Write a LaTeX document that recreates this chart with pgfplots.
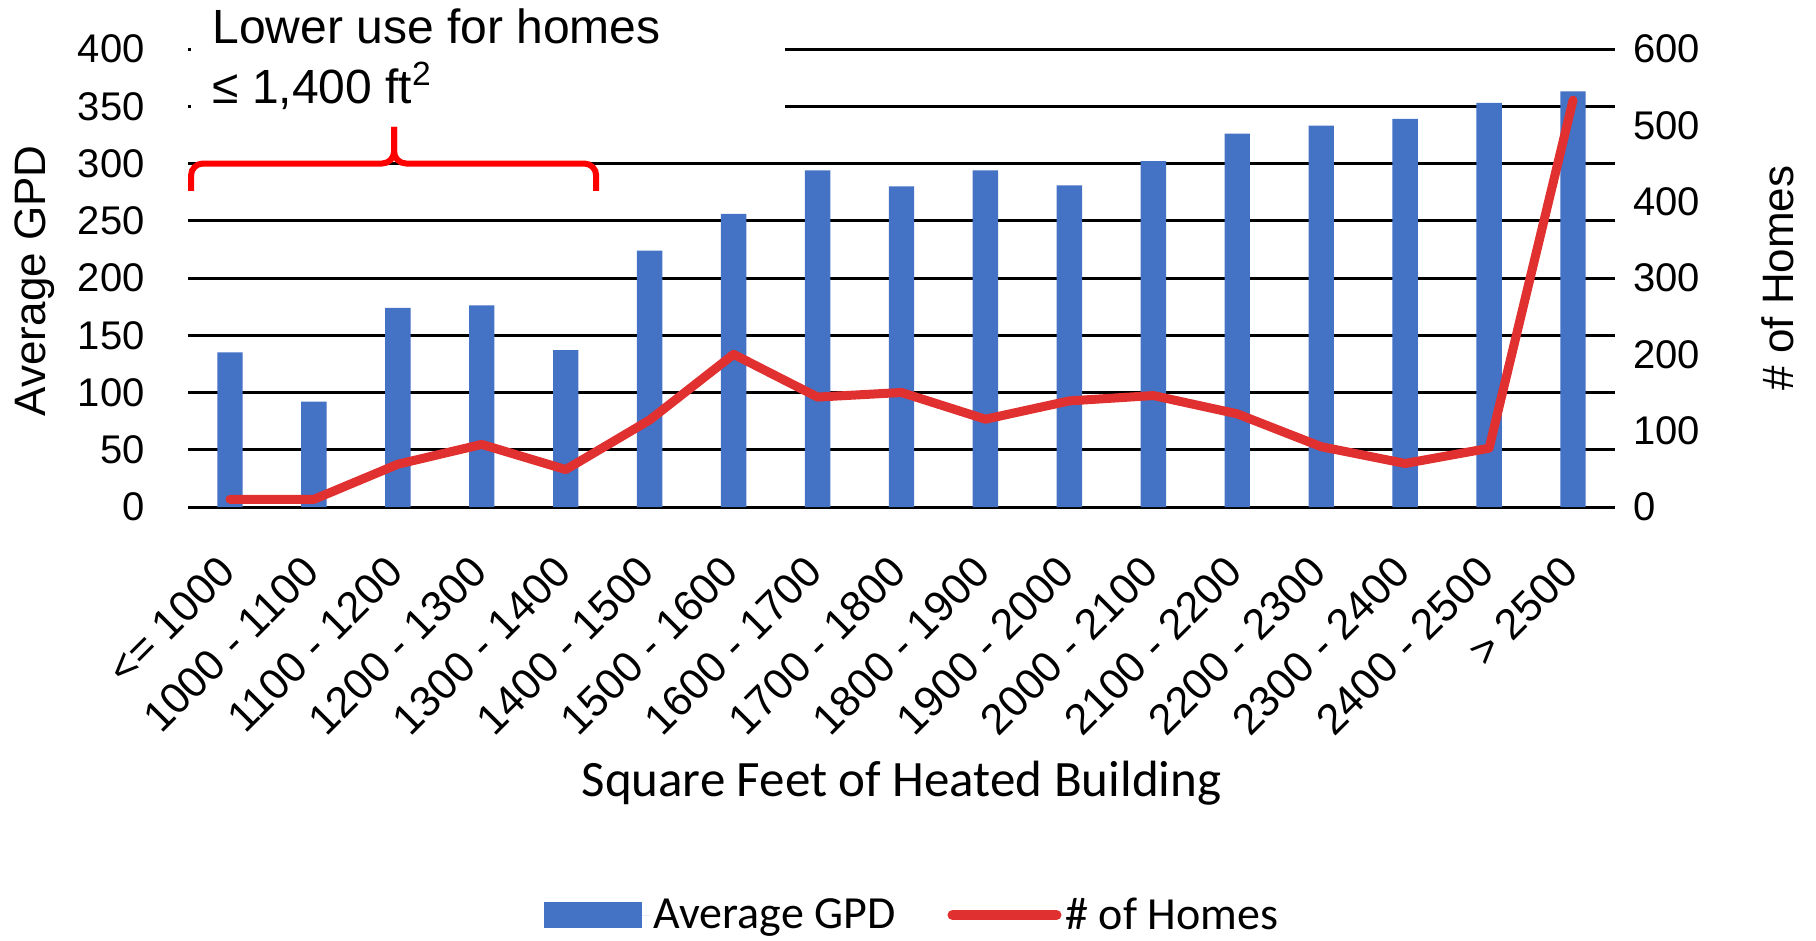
\documentclass[border=0pt]{standalone}
\usepackage{fontspec}
\setmainfont{Liberation Sans}
\newfontfamily\calibri{Carlito}
\usepackage{pgfplots}
\pgfplotsset{compat=1.18}
\definecolor{barblue}{HTML}{4472C4}
\definecolor{linered}{RGB}{224,48,48}
\definecolor{bracered}{RGB}{255,0,0}

\begin{document}
\begin{tikzpicture}
\useasboundingbox (-94pt,-217pt) rectangle (814pt,253.5pt);
\begin{axis}[
  at={(0pt,0pt)}, anchor=south west,
  scale only axis, width=713.5pt, height=229pt,
  xmin=-0.5, xmax=16.5, ymin=0, ymax=400,
  clip=false,
  axis line style={draw=none},
  major tick length=0pt,
  xtick={0,...,16},
  xticklabels={<= 1000, 1000 - 1100, 1100 - 1200, 1200 - 1300, 1300 - 1400, 1400 - 1500, 1500 - 1600, 1600 - 1700, 1700 - 1800, 1800 - 1900, 1900 - 2000, 2000 - 2100, 2100 - 2200, 2200 - 2300, 2300 - 2400, 2400 - 2500, > 2500},
  xticklabel style={font=\fontsize{21.5}{25}\selectfont, inner sep=0pt, xshift=-7pt, yshift=-23pt, rotate=45, anchor=north east},
  ytick={0,50,...,400},
  yticklabel style={font=\fontsize{20}{24}\selectfont, inner sep=0pt, anchor=east, xshift=-21.5pt},
  /pgf/number format/assume math mode=true,
  ymajorgrids, grid style={black, line width=1.5pt},
  ylabel={Average GPD},
  ylabel style={font=\fontsize{22}{26}\selectfont, at={(axis description cs:-0.1072,0.494)}, anchor=center},
  xlabel={Square Feet of Heated Building},
  xlabel style={font=\calibri\fontsize{25.5}{30}\selectfont, at={(axis description cs:0.5,-0.6026)}, anchor=center},
  legend columns=2,
  legend cell align=left,
  legend style={draw=none, fill=none, at={(axis description cs:0.508,-0.891)}, anchor=center, font=\calibri\fontsize{23}{27}\selectfont, /tikz/every even column/.append style={column sep=24pt}},
]
\addplot[ybar, bar width=12.7pt, fill=barblue, draw=none,
  legend image code/.code={\fill[barblue] (0pt,-6.5pt) rectangle (49pt,6.5pt); \path (0pt,0pt) -- (53pt,0pt);}]
  coordinates {(0,135) (1,92) (2,174) (3,176) (4,137) (5,224) (6,256) (7,294) (8,280) (9,294) (10,281) (11,302) (12,326) (13,333) (14,339) (15,353) (16,363)};
\addlegendentry{Average GPD}
\addlegendimage{legend image code/.code={\draw[linered, line width=5pt, line cap=round] (0pt,0pt) -- (52pt,0pt);}}
\addlegendentry{\# of Homes}

\fill[white] (axis cs:-0.464,333.6) rectangle (axis cs:6.612,443);
\node[anchor=base west, inner sep=0pt, font=\fontsize{24}{28}\selectfont] at (axis cs:-0.214,405) {Lower use for homes};
\node[anchor=base west, inner sep=0pt, font=\fontsize{24}{28}\selectfont] at (axis cs:-0.214,352) {≤ 1,400 ft\textsuperscript{2}};
\draw[bracered, line width=3pt, rounded corners=6pt] (axis cs:-0.464,276) -- (axis cs:-0.464,300) -- (axis cs:1.955,300) -- (axis cs:1.955,332);
\draw[bracered, line width=3pt, rounded corners=6pt] (axis cs:4.363,276) -- (axis cs:4.363,300) -- (axis cs:1.955,300) -- (axis cs:1.955,332);
\end{axis}

\begin{axis}[
  at={(0pt,0pt)}, anchor=south west,
  scale only axis, width=713.5pt, height=229pt,
  xmin=-0.5, xmax=16.5, ymin=0, ymax=600,
  axis x line=none, axis y line*=right, axis line style={draw=none},
  major tick length=0pt,
  ytick={0,100,...,600},
  yticklabel style={font=\fontsize{20}{24}\selectfont, inner sep=0pt, anchor=west, xshift=9pt},
  /pgf/number format/assume math mode=true,
  ylabel={\# of Homes},
  ylabel style={font=\fontsize{22}{26}\selectfont, at={(axis description cs:1.1142,0.5)}, anchor=center},
]
\addplot[linered, line width=4.5pt, line join=round, line cap=round, mark=none]
  coordinates {(0,10) (1,10) (2,56) (3,82) (4,49) (5,114) (6,200) (7,144) (8,150) (9,115) (10,139) (11,146) (12,122) (13,79) (14,57) (15,77) (16,533)};
\end{axis}
\end{tikzpicture}
\end{document}
